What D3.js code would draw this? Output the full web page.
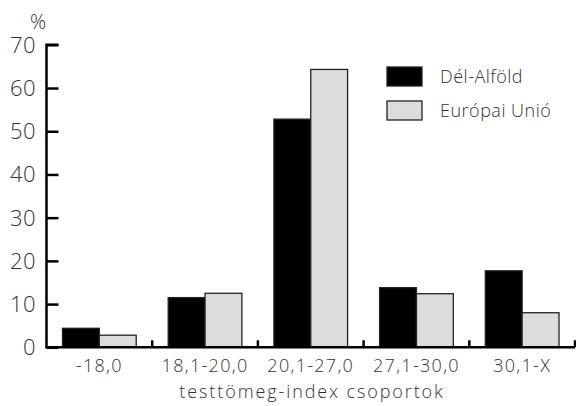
<!DOCTYPE html>
<html><head><meta charset="utf-8">
<script src="https://cdn.jsdelivr.net/npm/d3@7"></script>
<style>body{margin:0;background:#fff}svg{display:block}text{font-family:"Open Sans","DejaVu Sans",sans-serif;fill:#333;font-weight:300}</style>
</head><body>
<script>
const categories = ["-18,0","18,1-20,0","20,1-27,0","27,1-30,0","30,1-X"];
const seriesNames = ["Dél-Alföld","Európai Unió"];
const delAlfold = [4.4, 11.5, 52.8, 13.8, 17.7];
const europaiUnio = [2.8, 12.5, 64.3, 12.4, 8.0];
const yTicks = [0,10,20,30,40,50,60,70];
const colors = ["#000000","#dcdcdc"];

const W=576,H=406;
const svg=d3.select("body").append("svg").attr("width",W).attr("height",H);
const x0=d3.scaleBand().domain(categories).range([46.5,575]).paddingInner(0).paddingOuter(0);
const x1=d3.scaleBand().domain(seriesNames).range([16,x0.bandwidth()-16]);
const y=d3.scaleLinear().domain([0,70]).range([347.3,44.8]);
const data=[delAlfold,europaiUnio];

const g=svg.append("g");
categories.forEach((c,i)=>{
  seriesNames.forEach((s,j)=>{
    g.append("rect").attr("x",x0(c)+x1(s)).attr("y",y(data[j][i]))
     .attr("width",x1.bandwidth()).attr("height",y(0)-y(data[j][i]))
     .attr("fill",colors[j]).attr("stroke","#222").attr("stroke-width",1.3);
  });
});

// y axis
const ya=svg.append("g").attr("transform","translate(46.5,0)")
  .call(d3.axisRight(y).tickValues(yTicks).tickSize(12).tickFormat(""));
ya.select(".domain").attr("stroke","#000").attr("stroke-width",2.5).attr("d",`M12,${y(70)}H0V${y(0)}`);
ya.selectAll(".tick line").attr("stroke","#000").attr("stroke-width",2.5);
yTicks.forEach(t=>{
  svg.append("text").attr("x",36).attr("y",y(t)+8).attr("text-anchor","end")
    .attr("font-size",22).attr("letter-spacing",0.5).text(t);
});
svg.append("text").attr("x",38).attr("y",29).attr("text-anchor","middle").attr("font-size",20).text("%");

// x axis
const xa=svg.append("g").attr("transform",`translate(0,${y(0)})`)
  .call(d3.axisTop(x0).tickSize(0).tickFormat(""));
xa.select(".domain").attr("stroke","#000").attr("stroke-width",2.5).attr("d",`M45.3,0H575`);
xa.selectAll(".tick").remove();
categories.forEach((c,i)=>{
  const xe=x0(c)+x0.bandwidth();
  svg.append("line").attr("x1",xe).attr("x2",xe).attr("y1",y(0)).attr("y2",y(0)-7)
    .attr("stroke","#000").attr("stroke-width",2.5);
  svg.append("text").attr("x",x0(c)+x0.bandwidth()/2).attr("y",372).attr("text-anchor","middle")
    .attr("font-size",18).attr("letter-spacing",1.3).text(c);
});
svg.append("text").attr("x",312).attr("y",398).attr("text-anchor","middle").attr("font-size",18)
  .attr("letter-spacing",1.9).text("testtömeg-index csoportok");

// legend
seriesNames.forEach((s,j)=>{
  svg.append("rect").attr("x",387).attr("y",67+j*34).attr("width",35).attr("height",19)
    .attr("fill",colors[j]).attr("stroke","#222").attr("stroke-width",1.3);
  svg.append("text").attr("x",440).attr("y",83+j*34).attr("font-size",18).attr("letter-spacing",0.5).text(s);
});
</script>
</body></html>
